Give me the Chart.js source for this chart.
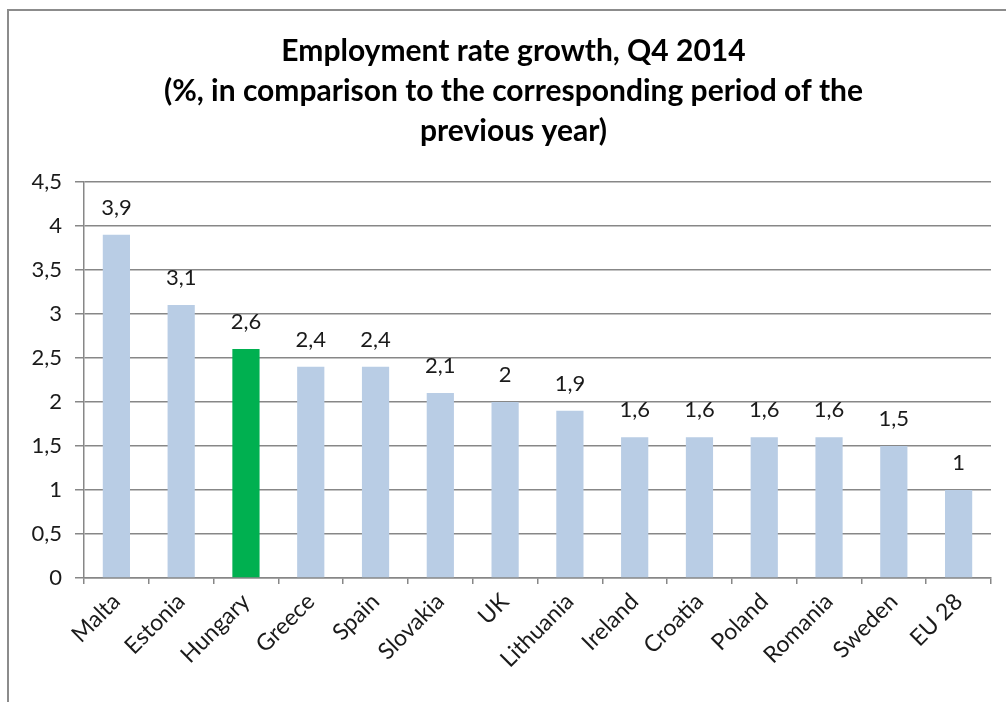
<!DOCTYPE html>
<html>
<head>
<meta charset="utf-8">
<script src="https://cdn.jsdelivr.net/npm/chart.js@4"></script>
<style>
  html, body { margin: 0; padding: 0; overflow: hidden; background: #fff; }
  .frame { position: absolute; left: 7px; top: 9px; width: 1020px; height: 720px; border: 2px solid #8c8c8c; }
  #chart { position: absolute; left: 0; top: 0; }
</style>
</head>
<body>
<div class="frame"></div>
<canvas id="chart" width="1006" height="702"></canvas>
<script>
const countries = ["Malta","Estonia","Hungary","Greece","Spain","Slovakia","UK","Lithuania","Ireland","Croatia","Poland","Romania","Sweden","EU 28"];
const growth = [3.9, 3.1, 2.6, 2.4, 2.4, 2.1, 2, 1.9, 1.6, 1.6, 1.6, 1.6, 1.5, 1];
const highlight = "Hungary";
const titleLines = [
  "Employment rate growth, Q4 2014",
  "(%, in comparison to the corresponding period of the",
  "previous year)"
];

const FONT = "Lato, 'Open Sans', sans-serif";
const comma = v => String(v).replace(".", ",");

// value labels above each bar
const barLabels = {
  id: "barLabels",
  afterDatasetsDraw(chart) {
    const ctx = chart.ctx;
    const meta = chart.getDatasetMeta(0);
    ctx.save();
    ctx.font = "22px " + FONT;
    ctx.fillStyle = "#1a1a1a";
    ctx.textAlign = "center";
    ctx.textBaseline = "alphabetic";
    meta.data.forEach((bar, i) => {
      ctx.fillText(comma(growth[i]), bar.x, bar.y - 20);
    });
    ctx.restore();
  }
};

// centre the title a little right of the canvas middle
const titleShift = {
  id: "titleShift",
  afterLayout(chart) {
    if (chart.titleBlock) chart.titleBlock.left += 36;
  }
};

new Chart(document.getElementById("chart"), {
  type: "bar",
  data: {
    labels: countries,
    datasets: [{
      data: growth,
      backgroundColor: countries.map(c => c === highlight ? "#00B050" : "#B9CDE5"),
      categoryPercentage: 1,
      barPercentage: 0.42
    }]
  },
  options: {
    responsive: false,
    animation: false,
    layout: { padding: { left: 0, right: 15, top: 0, bottom: 0 } },
    plugins: {
      legend: { display: false },
      tooltip: { enabled: false },
      title: {
        display: true,
        text: titleLines,
        color: "#000",
        font: { family: FONT, size: 30, weight: "bold", lineHeight: 1.32 },
        padding: { top: 32, bottom: 31 }
      }
    },
    scales: {
      y: {
        min: 0,
        max: 4.5,
        ticks: {
          stepSize: 0.5,
          color: "#1a1a1a",
          font: { family: FONT, size: 22 },
          padding: 13,
          callback: v => comma(v)
        },
        grid: { color: "#878787", lineWidth: 1.5, tickLength: 9 },
        border: { color: "#878787", width: 1.5 },
        afterFit(scale) { scale.width = 84; }
      },
      x: {
        ticks: {
          color: "#1a1a1a",
          font: { family: FONT, size: 23 },
          minRotation: 45,
          maxRotation: 45,
          padding: 4
        },
        grid: { drawOnChartArea: false, color: "#878787", lineWidth: 1.5, tickLength: 6 },
        border: { color: "#878787", width: 1.5 },
        afterFit(scale) { scale.height = 124; }
      }
    }
  },
  plugins: [barLabels, titleShift]
});
</script>
</body>
</html>
